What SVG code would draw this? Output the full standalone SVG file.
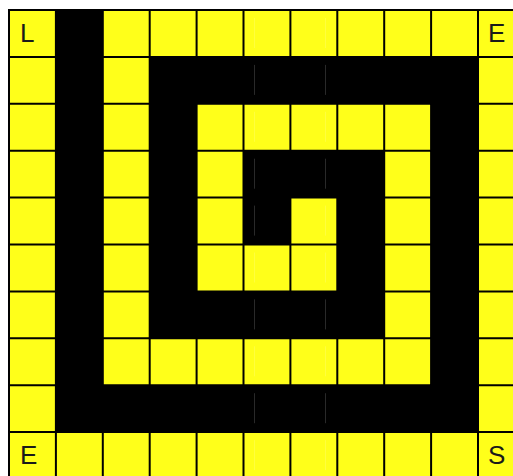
<svg xmlns="http://www.w3.org/2000/svg" width="513" height="476" viewBox="0 0 513 476">
<style>
.bg{fill:#ffff1a}
.wall{fill:#000}
.grid{stroke:#000;stroke-width:2;fill:none}
.tick{fill:#fff;fill-opacity:0.16}
.lbl{font-family:"Liberation Sans",Arial,sans-serif;font-size:26px;fill:#1a1a1a}
</style>
<rect x="0" y="0" width="513" height="476" fill="#fff"/>
<g id="board">
<rect class="bg" x="9" y="10" width="516" height="470"/>
</g>
<g id="walls">
<rect class="wall" x="55.9" y="10" width="46.9" height="375.2"/>
<rect class="wall" x="149.7" y="56.9" width="328.3" height="46.9"/>
<rect class="wall" x="149.7" y="56.9" width="46.9" height="281.4"/>
<rect class="wall" x="431.1" y="56.9" width="46.9" height="375.2"/>
<rect class="wall" x="55.9" y="385.2" width="422.1" height="46.9"/>
<rect class="wall" x="243.5" y="150.7" width="140.7" height="46.9"/>
<rect class="wall" x="243.5" y="150.7" width="46.9" height="93.8"/>
<rect class="wall" x="337.3" y="150.7" width="46.9" height="187.6"/>
<rect class="wall" x="149.7" y="291.4" width="234.5" height="46.9"/>
</g>
<g id="ticks">
<rect class="tick" x="254" y="18" width="1" height="30"/><rect class="tick" x="325" y="18" width="1" height="30"/>
<rect class="tick" x="254" y="64.9" width="1" height="30"/><rect class="tick" x="325" y="64.9" width="1" height="30"/>
<rect class="tick" x="254" y="111.8" width="1" height="30"/><rect class="tick" x="325" y="111.8" width="1" height="30"/>
<rect class="tick" x="254" y="158.7" width="1" height="30"/><rect class="tick" x="325" y="158.7" width="1" height="30"/>
<rect class="tick" x="254" y="205.6" width="1" height="30"/><rect class="tick" x="325" y="205.6" width="1" height="30"/>
<rect class="tick" x="254" y="252.5" width="1" height="30"/><rect class="tick" x="325" y="252.5" width="1" height="30"/>
<rect class="tick" x="254" y="299.4" width="1" height="30"/><rect class="tick" x="325" y="299.4" width="1" height="30"/>
<rect class="tick" x="254" y="346.3" width="1" height="30"/><rect class="tick" x="325" y="346.3" width="1" height="30"/>
<rect class="tick" x="254" y="393.2" width="1" height="30"/><rect class="tick" x="325" y="393.2" width="1" height="30"/>
<rect class="tick" x="254" y="440.1" width="1" height="30"/><rect class="tick" x="325" y="440.1" width="1" height="30"/>
</g>
<g id="gridlines">
<path class="grid" d="M9,9V480 M55.9,9V480 M102.8,9V480 M149.7,9V480 M196.6,9V480 M243.5,9V480 M290.4,9V480 M337.3,9V480 M384.2,9V480 M431.1,9V480 M478,9V480
M8,10H520 M8,56.9H520 M8,103.8H520 M8,150.7H520 M8,197.6H520 M8,244.5H520 M8,291.4H520 M8,338.3H520 M8,385.2H520 M8,432.1H520"/>
</g>
<g id="cell-L"><text class="lbl" x="20" y="42">L</text></g>
<g id="cell-E-top"><text class="lbl" x="488" y="42">E</text></g>
<g id="cell-E-bottom"><text class="lbl" x="20" y="464">E</text></g>
<g id="cell-S"><text class="lbl" x="488" y="464">S</text></g>
</svg>
